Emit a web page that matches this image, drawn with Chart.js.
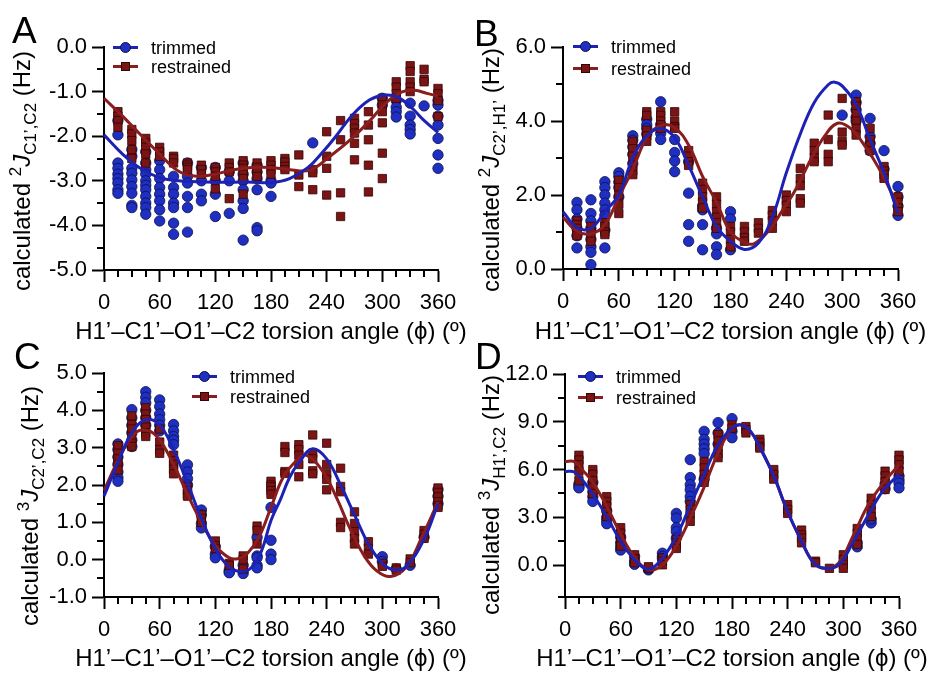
<!DOCTYPE html>
<html>
<head>
<meta charset="utf-8">
<script src="https://cdn.jsdelivr.net/npm/chart.js@4.4.1/dist/chart.umd.min.js"></script>
<style>
  body { margin:0; width:933px; height:674px; position:relative; overflow:hidden; background:#fff;
         font-family:"Liberation Sans", Arial, sans-serif; color:#000; }
  canvas { position:absolute; }
  .letter { position:absolute; font-size:37px; line-height:1; letter-spacing:1px; }
  .ytitle { position:absolute; white-space:nowrap; font-size:24px; line-height:1; transform:translate(-50%,-50%) rotate(-90deg); }
  .ytitle sup, .ytitle sub { font-size:17px; line-height:0; }
  .xtitle { position:absolute; white-space:nowrap; font-size:24px; line-height:1; transform:translate(-50%,-50%); }
  .leg { position:absolute; font-size:18px; line-height:20px; height:20px; white-space:nowrap; }
  .leg .ln { position:absolute; left:0; top:8px; width:25px; height:3px; }
  .leg .mk { position:absolute; box-sizing:border-box; }
  .leg .tx { position:absolute; left:38px; top:0; }
</style>
</head>
<body>
<script>
// torsion angle bins (deg) shared by all four panels
const BINS = [15,30,45,60,75,90,105,120,135,150,165,180,195,210,225,240,255,270,285,300,315,330,345,360];

// ---- panel A : 2J C1',C2 ----
const trimA = [
  [-1.65,-1.97,-2.6,-2.72,-2.85,-2.95,-3.05,-3.2,-3.28],
  [-2.3,-2.45,-2.72,-2.83,-2.98,-3.13,-3.28,-3.55,-3.6],
  [-2.35,-2.6,-2.75,-2.85,-3.0,-3.1,-3.2,-3.35,-3.5,-3.6,-3.75],
  [-2.55,-2.75,-2.95,-3.15,-3.3,-3.45,-3.65,-3.9],
  [-2.9,-3.15,-3.3,-3.5,-3.6,-3.95,-4.2],
  [-2.6,-2.9,-3.05,-3.35,-3.6,-4.15],
  [-2.7,-3.0,-3.3,-3.45],
  [-2.7,-3.0,-3.3,-3.8],
  [-2.8,-3.0,-3.73],
  [-2.6,-2.85,-3.0,-3.2,-3.45,-3.62,-4.33],
  [-2.65,-2.8,-2.95,-3.2,-4.05,-4.12],
  [-3.0,-3.05,-3.35],
  [], [], [-2.15], [], [], [], [],
  [-1.15,-1.3],
  [-1.2,-1.35,-1.45,-1.57],
  [-1.26,-1.55,-1.75,-1.85,-1.95],
  [-1.32],
  [-1.2,-1.3,-1.55,-1.75,-2.05,-2.42,-2.72]
];
const restA = [
  [-1.45,-1.55,-1.65,-1.8],
  [-1.85,-1.95,-2.1,-2.3,-2.5],
  [-2.05,-2.15,-2.25,-2.4,-2.6],
  [-2.25,-2.35,-2.45],
  [-2.45,-2.5,-2.6],
  [-2.6,-2.65,-2.7,-2.75],
  [-2.65,-2.75,-2.85],
  [-2.7,-2.8,-2.9,-3.18],
  [-2.6,-2.7,-2.8,-3.4],
  [-2.55,-2.65,-2.72,-2.85,-2.95,-3.3],
  [-2.6,-2.7,-2.8,-2.9],
  [-2.55,-2.65,-2.75,-2.85],
  [-2.5,-2.58,-2.68,-2.75],
  [-2.42,-2.87,-3.13],
  [-2.75,-2.82,-3.2],
  [-1.9,-2.45,-2.72,-3.32],
  [-1.65,-2.08,-3.27,-3.8],
  [-1.6,-1.72,-1.82,-1.93,-2.16,-2.53],
  [-1.45,-1.75,-2.08,-2.65,-3.25],
  [-1.15,-1.3,-1.45,-1.7,-2.38,-2.95],
  [-0.78,-0.9,-1.05,-1.15],
  [-0.42,-0.55,-0.78,-0.9,-1.0],
  [-0.5,-0.72,-0.78],
  [-0.93,-1.05,-1.2,-1.56]
];
const fitTrimAx = [0,20,40,60,80,100,120,140,160,180,200,220,236,250,268,286,301,315,330,344,360];
const fitTrimAy = [-1.97,-2.4,-2.73,-2.93,-3.0,-3.02,-3.03,-3.03,-3.03,-3.04,-2.95,-2.7,-2.35,-2.0,-1.52,-1.19,-1.08,-1.11,-1.33,-1.63,-1.92];
const fitRestAx = [0,20,40,60,80,100,120,140,160,180,200,222,243,265,287,305,322,335,348,360];
const fitRestAy = [-1.15,-1.55,-1.98,-2.4,-2.78,-2.9,-2.85,-2.75,-2.7,-2.7,-2.75,-2.76,-2.46,-2.09,-1.64,-1.23,-1.0,-0.97,-1.04,-1.1];

// ---- panel B : 2J C2',H1' ----
const trimB = [
  [1.8,1.6,1.35,1.1,0.9,0.57],
  [1.87,1.5,1.3,1.1,0.8,0.6,0.45,0.12],
  [2.36,2.2,2.0,1.78,1.6,1.45,1.05,0.57],
  [2.6,2.5,2.35,2.2,1.95],
  [3.6,3.48,3.3,3.1,2.85],
  [4.05,3.9,3.8,3.65],
  [4.52,3.9,3.67,3.5],
  [3.5,3.15,2.92,2.63],
  [2.9,2.05,1.2,0.75],
  [1.7,1.6,1.2,0.52],
  [1.1,0.95,0.6,0.39],
  [1.55,1.35,0.52],
  [], [], [], [], [], [], [],
  [4.16],
  [4.7,4.5,4.3,4.1,4.0],
  [4.07,3.58,3.4,3.2],
  [3.2,2.7],
  [2.23,1.95,1.7,1.45]
];
const restB = [
  [1.3,1.2,1.1,1.0,0.9],
  [1.15,1.0,0.85,0.75],
  [1.25,1.15,1.0,0.93],
  [2.4,2.2,2.0,1.75,1.5],
  [3.45,3.25,3.05,2.8,2.65,2.55],
  [4.25,4.15,3.75,3.6,3.45],
  [4.25,4.15,4.0,3.9,3.8],
  [4.25,4.0,3.85,3.8],
  [3.2,3.05,2.9,2.8],
  [2.32,2.15,1.95,1.8,1.65],
  [1.95,1.75,1.55,1.4,1.25,1.1],
  [1.15,1.0,0.8,0.6],
  [1.15,1.0,0.85,0.75],
  [1.25,1.1,0.97],
  [1.58,1.45,1.3,1.1],
  [2.0,1.85,1.72,1.55],
  [2.72,2.45,2.25,1.9,1.78],
  [3.4,3.2,3.0,2.9],
  [4.16,3.5,3.1,2.9],
  [4.61,3.7,3.45,3.35],
  [4.52,4.4,4.2,4.0,3.8,3.62],
  [3.8,3.5,3.35,3.2],
  [2.77,2.65,2.55,2.45],
  [1.95,1.8,1.65,1.55]
];
const fitTrimBx = [0,15,30,45,60,75,90,105,120,135,150,165,180,195,210,225,240,255,270,285,292,300,315,330,345,360];
const fitTrimBy = [1.55,1.12,1.1,1.55,2.0,3.0,3.6,3.8,3.55,2.8,1.95,1.15,0.75,0.53,0.7,1.4,2.6,3.65,4.5,4.98,5.05,4.95,4.45,3.5,2.6,1.5];
const fitRestBx = [0,15,30,45,60,75,90,105,120,135,150,165,180,195,205,220,235,250,265,280,295,310,325,340,360];
const fitRestBy = [1.4,1.02,0.95,1.2,1.95,2.7,3.55,3.88,3.82,3.35,2.5,1.8,1.0,0.72,0.68,1.0,1.55,2.15,2.9,3.55,3.94,3.78,3.3,2.7,1.7];

// ---- panel C : 3J C2',C2 ----
const trimC = [
  [3.1,2.95,2.75,2.55,2.35,2.2,2.1],
  [4.02,3.8,3.6,3.4,3.2,3.03],
  [4.5,4.35,4.2,4.0,3.8,3.6],
  [4.28,4.1,3.9,3.75,3.6,3.45],
  [3.62,3.45,3.3,3.2,3.08],
  [2.54,2.35,2.17,2.0],
  [1.33,1.2,0.97,0.85],
  [0.35,0.15,0.05],
  [-0.28,-0.33,-0.35],
  [-0.15,-0.3,-0.37],
  [0.6,0.1,0.05,-0.15,-0.22],
  [1.4,0.52,0.15,0.0],
  [], [], [], [], [], [], [],
  [0.08,-0.05],
  [-0.25],
  [-0.15],
  [0.6],
  [1.88,1.7,1.5]
];
const restC = [
  [3.05,2.85,2.7,2.55,2.4],
  [3.85,3.62,3.5,3.3,3.12,3.03],
  [4.07,3.9,3.75,3.55,3.4,3.3],
  [3.5,3.15,2.95,2.85],
  [2.8,2.65,2.55,2.42,2.3],
  [1.95,1.85,1.75,1.7],
  [1.2,1.1,1.0],
  [0.5,0.38,0.3],
  [-0.1,-0.15],
  [0.1,0.0,-0.25],
  [0.9,0.78,0.42],
  [2.1,2.0,1.95,1.85,1.75],
  [3.03,2.87,2.36,2.31],
  [3.08,2.95,2.8,2.55,2.22],
  [3.34,2.85,2.7,2.38,2.3],
  [3.12,2.55,2.3,2.15,1.87],
  [2.45,1.96,1.82,1.0,0.86],
  [1.28,0.97,0.75,0.57,0.42],
  [0.48,0.3,0.15],
  [-0.1,-0.18],
  [-0.22,-0.28],
  [0.02,-0.08],
  [0.78,0.68,0.57],
  [1.92,1.8,1.68,1.55,1.45,1.4]
];
const fitTrimCx = [0,15,30,45,60,75,90,105,120,135,150,160,170,180,190,200,210,225,240,255,270,285,300,312,325,345,360];
const fitTrimCy = [1.7,2.6,3.4,3.75,3.6,2.95,2.05,1.1,0.3,-0.2,-0.32,-0.18,0.25,1.05,1.6,2.2,2.6,2.97,2.7,2.0,1.2,0.42,-0.1,-0.27,-0.2,0.55,1.5];
const fitRestCx = [0,15,30,42,57,75,90,105,120,135,145,155,167,180,193,208,218,236,251,265,280,294,309,326,342,360];
const fitRestCy = [1.85,2.65,3.3,3.48,3.3,2.55,1.75,1.0,0.38,0.05,0.03,0.18,0.6,1.4,2.2,2.67,2.8,2.36,1.64,0.84,0.12,-0.3,-0.45,-0.19,0.57,1.55];

// ---- panel D : 3J H1',C2 ----
const trimD = [
  [5.1,4.95,4.85],
  [5.2,4.6,4.3,4.0],
  [3.4,3.0,2.8,2.6],
  [1.75,1.4,1.15,0.95],
  [0.55,0.25,0.05],
  [-0.3,-0.25],
  [0.75,0.55,0.4],
  [3.25,2.95,2.35,2.1,1.7],
  [6.62,5.5,5.05,4.73,4.31,4.0],
  [8.4,7.9,7.6,7.3,7.0,5.4],
  [8.95,8.3,7.6],
  [9.2,8.4,8.0],
  [], [], [], [], [], [], [], [],
  [1.15,1.4],
  [2.65,2.9],
  [5.1,4.8],
  [5.6,5.35,5.15,4.85]
];
const restD = [
  [6.9,6.6,6.3,5.9,5.3],
  [6.0,5.7,5.3,4.9,4.5],
  [4.3,4.0,3.7,3.35,3.05],
  [2.35,2.0,1.7,1.45,1.2],
  [0.65,0.4,0.15],
  [-0.2,-0.1],
  [0.45,0.25,0.02],
  [1.6,1.4,1.25,1.05],
  [3.8,3.5,3.25,2.75],
  [6.5,6.1,5.7,5.4,5.2],
  [8.2,7.8,7.35,7.0,6.75],
  [8.8,8.6],
  [8.7,8.5,8.3],
  [7.9,7.7,7.45,7.35],
  [6.0,5.7,5.4],
  [3.8,3.5,3.25],
  [2.2,1.9,1.7,1.4],
  [0.25,0.15],
  [-0.2],
  [0.65,0.35,0.05,-0.2],
  [2.3,2.0,1.7,1.3],
  [4.2,3.8,3.4,3.05],
  [5.9,5.6,5.25,4.75],
  [6.9,6.6,6.3,5.9]
];
const fitTrimDx = [0,10,20,30,45,60,75,90,105,120,135,150,165,180,190,200,210,225,240,255,268,280,295,311,327,343,360];
const fitTrimDy = [5.88,5.85,5.25,4.45,3.05,1.5,0.35,-0.25,0.44,1.8,3.75,5.7,7.55,8.6,8.8,8.4,7.4,5.6,3.35,1.5,0.15,-0.2,0.02,1.5,3.15,4.7,5.7];
const fitRestDx = [0,10,20,30,45,60,75,90,105,120,135,150,165,180,190,200,210,225,240,255,268,280,295,311,327,343,360];
const fitRestDy = [6.5,6.5,5.9,5.2,3.7,1.95,0.5,-0.3,0.02,1.2,2.95,4.9,7.05,8.6,8.8,8.4,7.4,5.6,3.35,1.5,0.15,-0.2,0.13,1.9,3.8,5.15,6.3];

const X_TITLE = 'H1\u2019\u2013C1\u2019\u2013O1\u2019\u2013C2 torsion angle (\u03d5) (\u00ba)';

const BLUE = '#1f2fc2', BLUE_EDGE = '#0c1048', BLUE_LINE = '#1d22b4';
const RED = '#7b1414', RED_EDGE = '#330505', RED_LINE = '#8a1d1d';

Chart.defaults.font.family = '"Liberation Sans", Arial, sans-serif';
Chart.defaults.color = '#000';

function isMajor(v, step) {
  const r = v / step;
  return Math.abs(r - Math.round(r)) < 1e-6;
}

// short minor ticks (Chart.js tickLength is one value for all ticks)
const minorTicks = {
  id: 'minorTicks',
  afterDraw(chart, args, opts) {
    const {ctx, chartArea} = chart;
    const xs = chart.scales.x, ys = chart.scales.y;
    ctx.save();
    ctx.strokeStyle = '#000';
    ctx.lineWidth = 2;
    ctx.beginPath();
    xs.ticks.forEach(t => {
      if (!isMajor(t.value, opts.xMajor)) {
        const px = Math.round(xs.getPixelForValue(t.value));
        ctx.moveTo(px, chartArea.bottom);
        ctx.lineTo(px, chartArea.bottom + 7);
      }
    });
    ys.ticks.forEach(t => {
      if (!isMajor(t.value, opts.yMajor)) {
        const py = Math.round(ys.getPixelForValue(t.value));
        ctx.moveTo(chartArea.left, py);
        ctx.lineTo(chartArea.left - 7, py);
      }
    });
    ctx.stroke();
    ctx.restore();
  }
};

function binPoints(sets) {
  const out = [];
  BINS.forEach((a, i) => sets[i].forEach(v => out.push({x: a, y: v})));
  return out;
}
function curve(xs, ys) {
  return xs.map((x, i) => ({x: x, y: ys[i]}));
}

function addDiv(cls, html, css) {
  const d = document.createElement('div');
  d.className = cls;
  d.innerHTML = html;
  d.style.cssText = css;
  document.body.appendChild(d);
  return d;
}

function addLegend(x, y1, y2) {
  const rows = [
    {y: y1, txt: 'trimmed', col: BLUE_LINE, fill: BLUE, edge: BLUE_EDGE, round: true},
    {y: y2, txt: 'restrained', col: RED_LINE, fill: RED, edge: RED_EDGE, round: false}
  ];
  rows.forEach(r => {
    const size = r.round ? 11 : 9;
    const mk = 'left:' + (12.5 - size / 2) + 'px;top:' + (9.5 - size / 2) + 'px;width:' + size + 'px;height:' + size +
      'px;background:' + r.fill + ';border:1px solid ' + r.edge + ';' + (r.round ? 'border-radius:50%;' : '');
    addDiv('leg',
      '<span class="ln" style="background:' + r.col + '"></span><span class="mk" style="' + mk + '"></span><span class="tx">' + r.txt + '</span>',
      'left:' + x + 'px;top:' + (r.y - 10) + 'px;width:140px');
  });
}

function makePanel(p) {
  const cv = document.createElement('canvas');
  cv.width = p.w;
  cv.height = p.h;
  cv.style.left = p.left + 'px';
  cv.style.top = p.top + 'px';
  document.body.appendChild(cv);

  new Chart(cv, {
    type: 'scatter',
    data: {
      datasets: [
        {label: 'trimmed fit', data: curve(p.ftx, p.fty), showLine: true, fill: false, borderColor: BLUE_LINE,
         borderWidth: 3, pointRadius: 0, tension: 0.4, order: 0, clip: false},
        {label: 'restrained fit', data: curve(p.frx, p.fry), showLine: true, fill: false, borderColor: RED_LINE,
         borderWidth: 3, pointRadius: 0, tension: 0.4, order: 1, clip: false},
        {label: 'restrained', data: binPoints(p.rest), pointStyle: 'rect', pointRadius: 5.9,
         backgroundColor: RED, borderColor: RED_EDGE, borderWidth: 0.8, order: 2, clip: false},
        {label: 'trimmed', data: binPoints(p.trim), pointStyle: 'circle', pointRadius: 5.2,
         backgroundColor: BLUE, borderColor: BLUE_EDGE, borderWidth: 0.8, order: 3, clip: false}
      ]
    },
    options: {
      responsive: false,
      animation: false,
      events: [],
      layout: {padding: {left: 0, top: p.area.t, right: p.w - p.area.r, bottom: 0}},
      plugins: {
        legend: {display: false},
        tooltip: {enabled: false},
        minorTicks: {xMajor: 60, yMajor: p.yMajor}
      },
      scales: {
        x: {
          type: 'linear', min: 0, max: 360,
          border: {display: true, color: '#000', width: 2},
          grid: {drawOnChartArea: false, drawTicks: true, tickLength: 12, tickWidth: 2,
                 tickColor: c => isMajor(c.tick.value, 60) ? '#000' : 'rgba(0,0,0,0)'},
          ticks: {stepSize: 15, autoSkip: false, maxRotation: 0, padding: 8, font: {size: 22},
                  callback: v => isMajor(v, 60) ? String(v) : ''},
          title: {display: false},
          afterFit: s => { s.height = p.h - p.area.b; }
        },
        y: {
          type: 'linear', min: p.ymin, max: p.ymax,
          border: {display: true, color: '#000', width: 2},
          grid: {drawOnChartArea: false, drawTicks: true, tickLength: 12, tickWidth: 2,
                 tickColor: c => isMajor(c.tick.value, p.yMajor) ? '#000' : 'rgba(0,0,0,0)'},
          ticks: {stepSize: p.ystep, autoSkip: false, padding: 5, font: {size: 22},
                  callback: v => isMajor(v, p.yMajor) ? v.toFixed(1) : ''},
          afterFit: s => { s.width = p.area.l; }
        }
      }
    },
    plugins: [minorTicks]
  });

  addDiv('letter', p.letter, 'left:' + p.lx + 'px;top:' + p.ly + 'px');
  addDiv('ytitle', p.ytitle, 'left:' + p.tx + 'px;top:' + p.ty + 'px');
  addDiv('xtitle', X_TITLE, 'left:' + (p.left + (p.area.l + p.area.r) / 2) + 'px;top:' + (p.top + p.xty) + 'px');
  addLegend(p.legX, p.legY1, p.legY2);
}

makePanel({letter: 'A', lx: 12, ly: 12, left: 0, top: 0, w: 466, h: 345,
  area: {l: 104, t: 47, r: 438, b: 270}, ymin: -5, ymax: 0, ystep: 0.5, yMajor: 1,
  trim: trimA, rest: restA, ftx: fitTrimAx, fty: fitTrimAy, frx: fitRestAx, fry: fitRestAy,
  ytitle: 'calculated <sup>2</sup><i>J</i><sub>C1\u2019,C2</sub> (Hz)', tx: 22, ty: 171, xty: 331,
  legX: 113, legY1: 48, legY2: 67});

makePanel({letter: 'B', lx: 474, ly: 15, left: 466, top: 0, w: 467, h: 345,
  area: {l: 97, t: 47, r: 432, b: 269}, ymin: 0, ymax: 6, ystep: 1, yMajor: 2,
  trim: trimB, rest: restB, ftx: fitTrimBx, fty: fitTrimBy, frx: fitRestBx, fry: fitRestBy,
  ytitle: 'calculated <sup>2</sup><i>J</i><sub>C2\u2019,H1\u2019</sub> (Hz)', tx: 491, ty: 170, xty: 331,
  legX: 573, legY1: 47, legY2: 69});

makePanel({letter: 'C', lx: 14, ly: 338, left: 0, top: 330, w: 466, h: 344,
  area: {l: 104, t: 43, r: 438, b: 267}, ymin: -1, ymax: 5, ystep: 0.5, yMajor: 1,
  trim: trimC, rest: restC, ftx: fitTrimCx, fty: fitTrimCy, frx: fitRestCx, fry: fitRestCy,
  ytitle: 'calculated <sup>3</sup><i>J</i><sub>C2\u2019,C2</sub> (Hz)', tx: 30, ty: 506, xty: 328,
  legX: 192, legY1: 377, legY2: 397});

makePanel({letter: 'D', lx: 475, ly: 338, left: 466, top: 330, w: 467, h: 344,
  area: {l: 99, t: 44, r: 433, b: 267}, ymin: -2, ymax: 12, ystep: 1.5, yMajor: 3,
  trim: trimD, rest: restD, ftx: fitTrimDx, fty: fitTrimDy, frx: fitRestDx, fry: fitRestDy,
  ytitle: 'calculated <sup>3</sup><i>J</i><sub>H1\u2019,C2</sub> (Hz)', tx: 491, ty: 495, xty: 328,
  legX: 578, legY1: 377, legY2: 398});
</script>
</body>
</html>
